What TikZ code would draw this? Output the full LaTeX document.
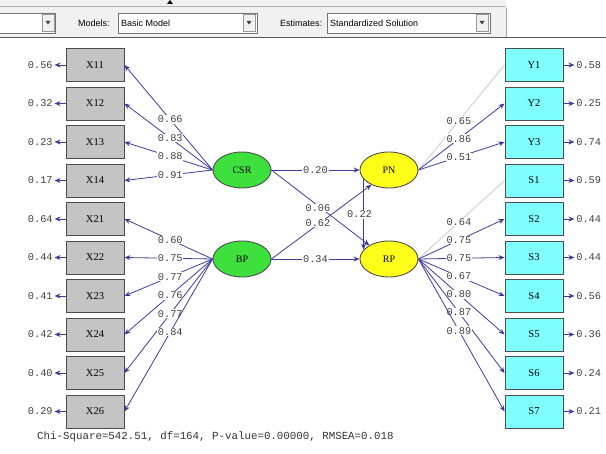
\documentclass[tikz,border=0pt]{standalone}
\usepackage{fontspec}
\setmainfont{Liberation Serif}
\newfontfamily\monof{Liberation Mono}
\newfontfamily\uif{Liberation Sans}
\usetikzlibrary{arrows.meta,shapes.geometric,calc}

\definecolor{pathblue}{HTML}{3C3C9C}
\definecolor{labgray}{HTML}{404040}
\definecolor{boxgray}{HTML}{C4C4C4}
\definecolor{boxcyan}{HTML}{7FFFFF}
\definecolor{latgreen}{HTML}{3EE03E}
\definecolor{latyellow}{HTML}{FFFF1A}
\definecolor{faint}{HTML}{D0D8D0}
\definecolor{barbg}{HTML}{F1F1F1}

\begin{document}
\begin{tikzpicture}[x=1pt,y=-1pt,
  obs/.style={draw=black!70, line width=0.9pt, minimum width=58pt, minimum height=33pt,
              inner sep=0pt, font=\fontsize{10.5}{11}\selectfont},
  xbox/.style={obs, fill=boxgray},
  ybox/.style={obs, fill=boxcyan},
  latent/.style={ellipse, draw=black!70, line width=0.9pt, minimum width=58pt,
                 minimum height=36pt, inner sep=0pt, font=\fontsize{10}{11}\selectfont},
  path/.style={draw=pathblue, line width=0.8pt, -{Stealth[length=6pt,width=5pt]}},
  weak/.style={draw=faint, line width=1.1pt},
  coef/.style={fill=white, inner sep=0.8pt, text=labgray, font=\monof\fontsize{10.3}{10}\selectfont},
  err/.style={text=labgray, inner sep=0pt, font=\monof\fontsize{10.3}{10}\selectfont},
  combo/.style={draw=black!55, fill=white, line width=0.6pt},
  uitext/.style={anchor=west, inner sep=0pt, font=\uif\fontsize{9}{10}\selectfont},
]
\useasboundingbox (0,0) rectangle (606,454);

% ---- toolbar ----
\fill[barbg] (0,0) rectangle (506,37);
\draw[black!30] (0,6) -- (506,6);
\draw[black!35] (506,8) -- (506,37);
\draw[black!65, line width=1pt] (0,38) -- (606,38);
\fill[black] (167,4) -- (173,4) -- (170,0) -- cycle;

\draw[combo] (-1,13) rectangle (55,33);
\draw[combo] (118,13) rectangle (257,33);
\draw[combo] (327,13) rectangle (490,33);
\foreach \bx in {42,243,476}{
  \draw[black!40, fill=barbg] (\bx,14.5) rectangle ++(12,17);
  \fill[black!75] (\bx+3.5,21) -- (\bx+8.5,21) -- (\bx+6,24.5) -- cycle;
}
\node[uitext] (mlab) at (78,23) {Models:};
\node[uitext] (mval) at (121,23) {Basic Model};
\node[uitext] (elab) at (280,23) {Estimates:};
\node[uitext] (eval) at (330,23) {Standardized Solution};

% ---- observed indicators ----
\foreach \n [count=\i from 0] in {X11,X12,X13,X14,X21,X22,X23,X24,X25,X26}
  \node[xbox] (\n) at (95,65+38.5*\i) {\n};
\foreach \n [count=\i from 0] in {Y1,Y2,Y3,S1,S2,S3,S4,S5,S6,S7}
  \node[ybox] (\n) at (534,65+38.5*\i) {\n};

% ---- latent variables ----
\node[latent, fill=latgreen]  (CSR) at (242,170) {CSR};
\node[latent, fill=latgreen]  (BP)  at (242,259) {BP};
\node[latent, fill=latyellow] (PN)  at (389,170) {PN};
\node[latent, fill=latyellow] (RP)  at (389,259) {RP};

% ---- measurement paths ----
\foreach \n/\v in {X11/0.66,X12/0.83,X13/0.88,X14/0.91}
  \draw[path] (CSR.west) -- (\n.east) node[coef, pos=0.48] {\v};
\foreach \n/\v in {X21/0.60,X22/0.75,X23/0.77,X24/0.76,X25/0.77,X26/0.84}
  \draw[path] (BP.west) -- (\n.east) node[coef, pos=0.48] {\v};

\draw[weak] (PN.east) -- (Y1.west) node[coef, pos=0.47] {0.65};
\foreach \n/\v in {Y2/0.86,Y3/0.51}
  \draw[path] (PN.east) -- (\n.west) node[coef, pos=0.47] {\v};
\draw[weak] (RP.east) -- (S1.west) node[coef, pos=0.47] {0.64};
\foreach \n/\v in {S2/0.75,S3/0.75,S4/0.67,S5/0.80,S6/0.87,S7/0.89}
  \draw[path] (RP.east) -- (\n.west) node[coef, pos=0.47] {\v};

% ---- structural paths ----
\draw[path] (CSR.east) -- (PN.west) node[coef, pos=0.5] {0.20};
\draw[path] (BP.east) -- (RP.west) node[coef, pos=0.5] {0.34};
\draw[path] (CSR.east) -- (RP.145);
\draw[path] (BP.east) -- (PN.220);
\draw[path] (PN.200) -- (RP.160) node[coef, pos=0.5, xshift=-4pt] {0.22};
\node[coef] (c06) at (318,208) {0.06};
\node[coef] (c62) at (318,223) {0.62};

% ---- error variances ----
\foreach \n/\v in {X11/0.56,X12/0.32,X13/0.23,X14/0.17,X21/0.64,X22/0.44,X23/0.41,X24/0.42,X25/0.40,X26/0.29}
  \draw[path] (\n.west) -- ++(-11,0) node[err, anchor=east, xshift=-1.5pt] {\v};
\foreach \n/\v in {Y1/0.58,Y2/0.25,Y3/0.74,S1/0.59,S2/0.44,S3/0.44,S4/0.56,S5/0.36,S6/0.24,S7/0.21}
  \draw[path] (\n.east) -- ++(11,0) node[err, anchor=west, xshift=1.5pt] {\v};

% ---- fit statistics ----
\node[anchor=west, inner sep=0pt, text=black!80, font=\monof\fontsize{10.8}{11}\selectfont] (fit) at (37,437)
  {Chi-Square=542.51, df=164, P-value=0.00000, RMSEA=0.018};
\end{tikzpicture}
\end{document}
